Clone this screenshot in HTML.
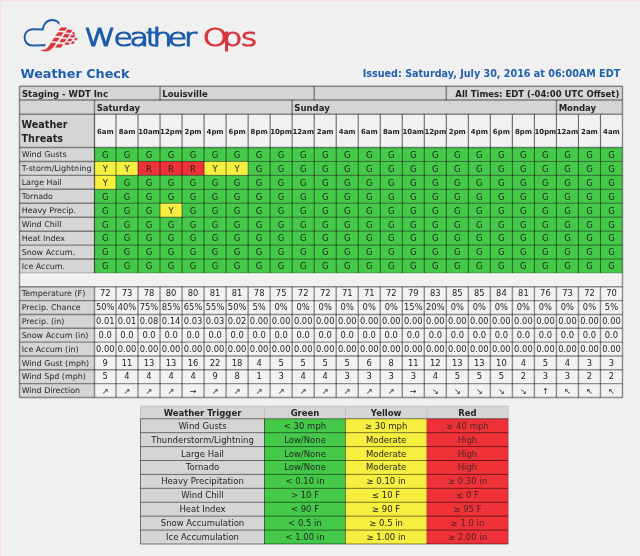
<!DOCTYPE html>
<html lang="en">
<head>
<meta charset="utf-8">
<title>WeatherOps - Weather Check</title>
<style>
html,body{margin:0;padding:0;background:#f0f0f0;}
body{width:640px;height:556px;overflow:hidden;}
svg{display:block;font-family:"DejaVu Sans", "Liberation Sans", sans-serif;fill:#242424;}
svg text{white-space:pre;}
</style>
</head>
<body>
<svg width="640" height="556" viewBox="0 0 640 556">
<defs><filter id="soft" filterUnits="userSpaceOnUse" x="-10" y="-10" width="660" height="576"><feGaussianBlur stdDeviation="0.35"/></filter></defs>
<g filter="url(#soft)">
<rect x="0.00" y="0.00" width="640.00" height="556.00" fill="#f0f0f0"/>
<text x="20.50" y="77.50" font-size="12.8" font-weight="700" fill="#2160ad">Weather Check</text>
<text x="620.20" y="76.90" font-size="9.6" font-weight="700" text-anchor="end" fill="#2160ad">Issued: Saturday, July 30, 2016 at 06:00AM EDT</text>
<rect x="19.50" y="86.25" width="603.00" height="28.05" fill="#d5d5d5"/>
<rect x="19.50" y="114.30" width="75.00" height="158.70" fill="#d5d5d5"/>
<rect x="94.50" y="114.30" width="528.00" height="33.20" fill="#f1f1f1"/>
<rect x="94.50" y="147.50" width="528.00" height="13.94" fill="#45c94a"/>
<rect x="94.50" y="161.44" width="43.52" height="13.94" fill="#f6ef41"/>
<rect x="138.02" y="161.44" width="66.07" height="13.94" fill="#ef3038"/>
<rect x="204.09" y="161.44" width="44.04" height="13.94" fill="#f6ef41"/>
<rect x="248.13" y="161.44" width="374.37" height="13.94" fill="#45c94a"/>
<rect x="94.50" y="175.39" width="21.50" height="13.94" fill="#f6ef41"/>
<rect x="116.00" y="175.39" width="506.50" height="13.94" fill="#45c94a"/>
<rect x="94.50" y="189.33" width="528.00" height="13.94" fill="#45c94a"/>
<rect x="94.50" y="203.28" width="65.54" height="13.94" fill="#45c94a"/>
<rect x="160.04" y="203.28" width="22.02" height="13.94" fill="#f6ef41"/>
<rect x="182.07" y="203.28" width="440.43" height="13.94" fill="#45c94a"/>
<rect x="94.50" y="217.22" width="528.00" height="13.94" fill="#45c94a"/>
<rect x="94.50" y="231.17" width="528.00" height="13.94" fill="#45c94a"/>
<rect x="94.50" y="245.11" width="528.00" height="13.94" fill="#45c94a"/>
<rect x="94.50" y="259.06" width="528.00" height="13.94" fill="#45c94a"/>
<rect x="19.50" y="273.00" width="603.00" height="13.75" fill="#f1f1f1"/>
<line x1="20.20" y1="274.00" x2="621.80" y2="274.00" stroke="#fff" stroke-width="0.8" stroke-opacity="0.9"/>
<line x1="20.60" y1="273.70" x2="20.60" y2="286.05" stroke="#fff" stroke-width="0.8" stroke-opacity="0.9"/>
<rect x="19.50" y="286.75" width="75.00" height="110.75" fill="#d5d5d5"/>
<rect x="94.50" y="286.75" width="528.00" height="110.75" fill="#f2f2f2"/>
<line x1="19.50" y1="86.25" x2="622.50" y2="86.25" stroke="#000" stroke-width="1.42" stroke-opacity="0.42"/>
<line x1="19.50" y1="397.50" x2="622.50" y2="397.50" stroke="#000" stroke-width="1.42" stroke-opacity="0.42"/>
<line x1="19.50" y1="86.25" x2="19.50" y2="397.50" stroke="#000" stroke-width="1.42" stroke-opacity="0.42"/>
<line x1="622.50" y1="86.25" x2="622.50" y2="397.50" stroke="#000" stroke-width="1.42" stroke-opacity="0.42"/>
<line x1="19.50" y1="100.00" x2="622.50" y2="100.00" stroke="#000" stroke-width="1.42" stroke-opacity="0.42"/>
<line x1="19.50" y1="114.30" x2="622.50" y2="114.30" stroke="#000" stroke-width="1.42" stroke-opacity="0.42"/>
<line x1="19.50" y1="147.50" x2="622.50" y2="147.50" stroke="#000" stroke-width="1.42" stroke-opacity="0.42"/>
<line x1="19.50" y1="161.44" x2="94.50" y2="161.44" stroke="#000" stroke-width="1.42" stroke-opacity="0.42"/>
<line x1="94.50" y1="161.44" x2="622.50" y2="161.44" stroke="#000" stroke-width="1.0" stroke-opacity="0.5"/>
<line x1="19.50" y1="175.39" x2="94.50" y2="175.39" stroke="#000" stroke-width="1.42" stroke-opacity="0.42"/>
<line x1="94.50" y1="175.39" x2="622.50" y2="175.39" stroke="#000" stroke-width="1.0" stroke-opacity="0.5"/>
<line x1="19.50" y1="189.33" x2="94.50" y2="189.33" stroke="#000" stroke-width="1.42" stroke-opacity="0.42"/>
<line x1="94.50" y1="189.33" x2="622.50" y2="189.33" stroke="#000" stroke-width="1.0" stroke-opacity="0.5"/>
<line x1="19.50" y1="203.28" x2="94.50" y2="203.28" stroke="#000" stroke-width="1.42" stroke-opacity="0.42"/>
<line x1="94.50" y1="203.28" x2="622.50" y2="203.28" stroke="#000" stroke-width="1.0" stroke-opacity="0.5"/>
<line x1="19.50" y1="217.22" x2="94.50" y2="217.22" stroke="#000" stroke-width="1.42" stroke-opacity="0.42"/>
<line x1="94.50" y1="217.22" x2="622.50" y2="217.22" stroke="#000" stroke-width="1.0" stroke-opacity="0.5"/>
<line x1="19.50" y1="231.17" x2="94.50" y2="231.17" stroke="#000" stroke-width="1.42" stroke-opacity="0.42"/>
<line x1="94.50" y1="231.17" x2="622.50" y2="231.17" stroke="#000" stroke-width="1.0" stroke-opacity="0.5"/>
<line x1="19.50" y1="245.11" x2="94.50" y2="245.11" stroke="#000" stroke-width="1.42" stroke-opacity="0.42"/>
<line x1="94.50" y1="245.11" x2="622.50" y2="245.11" stroke="#000" stroke-width="1.0" stroke-opacity="0.5"/>
<line x1="19.50" y1="259.06" x2="94.50" y2="259.06" stroke="#000" stroke-width="1.42" stroke-opacity="0.42"/>
<line x1="94.50" y1="259.06" x2="622.50" y2="259.06" stroke="#000" stroke-width="1.0" stroke-opacity="0.5"/>
<line x1="19.50" y1="273.00" x2="622.50" y2="273.00" stroke="#000" stroke-width="1.0" stroke-opacity="0.25"/>
<line x1="19.50" y1="286.75" x2="622.50" y2="286.75" stroke="#000" stroke-width="1.42" stroke-opacity="0.42"/>
<line x1="19.50" y1="300.59" x2="622.50" y2="300.59" stroke="#000" stroke-width="1.42" stroke-opacity="0.42"/>
<line x1="19.50" y1="314.44" x2="622.50" y2="314.44" stroke="#000" stroke-width="1.42" stroke-opacity="0.42"/>
<line x1="19.50" y1="328.28" x2="622.50" y2="328.28" stroke="#000" stroke-width="1.42" stroke-opacity="0.42"/>
<line x1="19.50" y1="342.12" x2="622.50" y2="342.12" stroke="#000" stroke-width="1.42" stroke-opacity="0.42"/>
<line x1="19.50" y1="355.97" x2="622.50" y2="355.97" stroke="#000" stroke-width="1.42" stroke-opacity="0.42"/>
<line x1="19.50" y1="369.81" x2="622.50" y2="369.81" stroke="#000" stroke-width="1.42" stroke-opacity="0.42"/>
<line x1="19.50" y1="383.66" x2="622.50" y2="383.66" stroke="#000" stroke-width="1.42" stroke-opacity="0.42"/>
<line x1="160.04" y1="86.25" x2="160.04" y2="100.00" stroke="#000" stroke-width="1.42" stroke-opacity="0.42"/>
<line x1="314.20" y1="86.25" x2="314.20" y2="100.00" stroke="#000" stroke-width="1.42" stroke-opacity="0.42"/>
<line x1="446.33" y1="86.25" x2="446.33" y2="100.00" stroke="#000" stroke-width="1.42" stroke-opacity="0.42"/>
<line x1="94.50" y1="100.00" x2="94.50" y2="114.30" stroke="#000" stroke-width="1.42" stroke-opacity="0.42"/>
<line x1="292.17" y1="100.00" x2="292.17" y2="114.30" stroke="#000" stroke-width="1.42" stroke-opacity="0.42"/>
<line x1="556.43" y1="100.00" x2="556.43" y2="114.30" stroke="#000" stroke-width="1.42" stroke-opacity="0.42"/>
<line x1="94.50" y1="114.30" x2="94.50" y2="273.00" stroke="#000" stroke-width="1.25" stroke-opacity="0.6"/>
<line x1="116.00" y1="114.30" x2="116.00" y2="147.50" stroke="#000" stroke-width="1.15" stroke-opacity="0.55"/>
<line x1="116.00" y1="147.50" x2="116.00" y2="273.00" stroke="#000" stroke-width="1.0" stroke-opacity="0.5"/>
<line x1="138.02" y1="114.30" x2="138.02" y2="147.50" stroke="#000" stroke-width="1.15" stroke-opacity="0.55"/>
<line x1="138.02" y1="147.50" x2="138.02" y2="273.00" stroke="#000" stroke-width="1.0" stroke-opacity="0.5"/>
<line x1="160.04" y1="114.30" x2="160.04" y2="147.50" stroke="#000" stroke-width="1.15" stroke-opacity="0.55"/>
<line x1="160.04" y1="147.50" x2="160.04" y2="273.00" stroke="#000" stroke-width="1.0" stroke-opacity="0.5"/>
<line x1="182.07" y1="114.30" x2="182.07" y2="147.50" stroke="#000" stroke-width="1.15" stroke-opacity="0.55"/>
<line x1="182.07" y1="147.50" x2="182.07" y2="273.00" stroke="#000" stroke-width="1.0" stroke-opacity="0.5"/>
<line x1="204.09" y1="114.30" x2="204.09" y2="147.50" stroke="#000" stroke-width="1.15" stroke-opacity="0.55"/>
<line x1="204.09" y1="147.50" x2="204.09" y2="273.00" stroke="#000" stroke-width="1.0" stroke-opacity="0.5"/>
<line x1="226.11" y1="114.30" x2="226.11" y2="147.50" stroke="#000" stroke-width="1.15" stroke-opacity="0.55"/>
<line x1="226.11" y1="147.50" x2="226.11" y2="273.00" stroke="#000" stroke-width="1.0" stroke-opacity="0.5"/>
<line x1="248.13" y1="114.30" x2="248.13" y2="147.50" stroke="#000" stroke-width="1.15" stroke-opacity="0.55"/>
<line x1="248.13" y1="147.50" x2="248.13" y2="273.00" stroke="#000" stroke-width="1.0" stroke-opacity="0.5"/>
<line x1="270.15" y1="114.30" x2="270.15" y2="147.50" stroke="#000" stroke-width="1.15" stroke-opacity="0.55"/>
<line x1="270.15" y1="147.50" x2="270.15" y2="273.00" stroke="#000" stroke-width="1.0" stroke-opacity="0.5"/>
<line x1="292.17" y1="114.30" x2="292.17" y2="147.50" stroke="#000" stroke-width="1.15" stroke-opacity="0.55"/>
<line x1="292.17" y1="147.50" x2="292.17" y2="273.00" stroke="#000" stroke-width="1.0" stroke-opacity="0.5"/>
<line x1="314.20" y1="114.30" x2="314.20" y2="147.50" stroke="#000" stroke-width="1.15" stroke-opacity="0.55"/>
<line x1="314.20" y1="147.50" x2="314.20" y2="273.00" stroke="#000" stroke-width="1.0" stroke-opacity="0.5"/>
<line x1="336.22" y1="114.30" x2="336.22" y2="147.50" stroke="#000" stroke-width="1.15" stroke-opacity="0.55"/>
<line x1="336.22" y1="147.50" x2="336.22" y2="273.00" stroke="#000" stroke-width="1.0" stroke-opacity="0.5"/>
<line x1="358.24" y1="114.30" x2="358.24" y2="147.50" stroke="#000" stroke-width="1.15" stroke-opacity="0.55"/>
<line x1="358.24" y1="147.50" x2="358.24" y2="273.00" stroke="#000" stroke-width="1.0" stroke-opacity="0.5"/>
<line x1="380.26" y1="114.30" x2="380.26" y2="147.50" stroke="#000" stroke-width="1.15" stroke-opacity="0.55"/>
<line x1="380.26" y1="147.50" x2="380.26" y2="273.00" stroke="#000" stroke-width="1.0" stroke-opacity="0.5"/>
<line x1="402.28" y1="114.30" x2="402.28" y2="147.50" stroke="#000" stroke-width="1.15" stroke-opacity="0.55"/>
<line x1="402.28" y1="147.50" x2="402.28" y2="273.00" stroke="#000" stroke-width="1.0" stroke-opacity="0.5"/>
<line x1="424.30" y1="114.30" x2="424.30" y2="147.50" stroke="#000" stroke-width="1.15" stroke-opacity="0.55"/>
<line x1="424.30" y1="147.50" x2="424.30" y2="273.00" stroke="#000" stroke-width="1.0" stroke-opacity="0.5"/>
<line x1="446.33" y1="114.30" x2="446.33" y2="147.50" stroke="#000" stroke-width="1.15" stroke-opacity="0.55"/>
<line x1="446.33" y1="147.50" x2="446.33" y2="273.00" stroke="#000" stroke-width="1.0" stroke-opacity="0.5"/>
<line x1="468.35" y1="114.30" x2="468.35" y2="147.50" stroke="#000" stroke-width="1.15" stroke-opacity="0.55"/>
<line x1="468.35" y1="147.50" x2="468.35" y2="273.00" stroke="#000" stroke-width="1.0" stroke-opacity="0.5"/>
<line x1="490.37" y1="114.30" x2="490.37" y2="147.50" stroke="#000" stroke-width="1.15" stroke-opacity="0.55"/>
<line x1="490.37" y1="147.50" x2="490.37" y2="273.00" stroke="#000" stroke-width="1.0" stroke-opacity="0.5"/>
<line x1="512.39" y1="114.30" x2="512.39" y2="147.50" stroke="#000" stroke-width="1.15" stroke-opacity="0.55"/>
<line x1="512.39" y1="147.50" x2="512.39" y2="273.00" stroke="#000" stroke-width="1.0" stroke-opacity="0.5"/>
<line x1="534.41" y1="114.30" x2="534.41" y2="147.50" stroke="#000" stroke-width="1.15" stroke-opacity="0.55"/>
<line x1="534.41" y1="147.50" x2="534.41" y2="273.00" stroke="#000" stroke-width="1.0" stroke-opacity="0.5"/>
<line x1="556.43" y1="114.30" x2="556.43" y2="147.50" stroke="#000" stroke-width="1.15" stroke-opacity="0.55"/>
<line x1="556.43" y1="147.50" x2="556.43" y2="273.00" stroke="#000" stroke-width="1.0" stroke-opacity="0.5"/>
<line x1="578.46" y1="114.30" x2="578.46" y2="147.50" stroke="#000" stroke-width="1.15" stroke-opacity="0.55"/>
<line x1="578.46" y1="147.50" x2="578.46" y2="273.00" stroke="#000" stroke-width="1.0" stroke-opacity="0.5"/>
<line x1="600.48" y1="114.30" x2="600.48" y2="147.50" stroke="#000" stroke-width="1.15" stroke-opacity="0.55"/>
<line x1="600.48" y1="147.50" x2="600.48" y2="273.00" stroke="#000" stroke-width="1.0" stroke-opacity="0.5"/>
<line x1="94.50" y1="286.75" x2="94.50" y2="397.50" stroke="#000" stroke-width="1.42" stroke-opacity="0.42"/>
<line x1="116.00" y1="286.75" x2="116.00" y2="397.50" stroke="#000" stroke-width="1.42" stroke-opacity="0.42"/>
<line x1="138.02" y1="286.75" x2="138.02" y2="397.50" stroke="#000" stroke-width="1.42" stroke-opacity="0.42"/>
<line x1="160.04" y1="286.75" x2="160.04" y2="397.50" stroke="#000" stroke-width="1.42" stroke-opacity="0.42"/>
<line x1="182.07" y1="286.75" x2="182.07" y2="397.50" stroke="#000" stroke-width="1.42" stroke-opacity="0.42"/>
<line x1="204.09" y1="286.75" x2="204.09" y2="397.50" stroke="#000" stroke-width="1.42" stroke-opacity="0.42"/>
<line x1="226.11" y1="286.75" x2="226.11" y2="397.50" stroke="#000" stroke-width="1.42" stroke-opacity="0.42"/>
<line x1="248.13" y1="286.75" x2="248.13" y2="397.50" stroke="#000" stroke-width="1.42" stroke-opacity="0.42"/>
<line x1="270.15" y1="286.75" x2="270.15" y2="397.50" stroke="#000" stroke-width="1.42" stroke-opacity="0.42"/>
<line x1="292.17" y1="286.75" x2="292.17" y2="397.50" stroke="#000" stroke-width="1.42" stroke-opacity="0.42"/>
<line x1="314.20" y1="286.75" x2="314.20" y2="397.50" stroke="#000" stroke-width="1.42" stroke-opacity="0.42"/>
<line x1="336.22" y1="286.75" x2="336.22" y2="397.50" stroke="#000" stroke-width="1.42" stroke-opacity="0.42"/>
<line x1="358.24" y1="286.75" x2="358.24" y2="397.50" stroke="#000" stroke-width="1.42" stroke-opacity="0.42"/>
<line x1="380.26" y1="286.75" x2="380.26" y2="397.50" stroke="#000" stroke-width="1.42" stroke-opacity="0.42"/>
<line x1="402.28" y1="286.75" x2="402.28" y2="397.50" stroke="#000" stroke-width="1.42" stroke-opacity="0.42"/>
<line x1="424.30" y1="286.75" x2="424.30" y2="397.50" stroke="#000" stroke-width="1.42" stroke-opacity="0.42"/>
<line x1="446.33" y1="286.75" x2="446.33" y2="397.50" stroke="#000" stroke-width="1.42" stroke-opacity="0.42"/>
<line x1="468.35" y1="286.75" x2="468.35" y2="397.50" stroke="#000" stroke-width="1.42" stroke-opacity="0.42"/>
<line x1="490.37" y1="286.75" x2="490.37" y2="397.50" stroke="#000" stroke-width="1.42" stroke-opacity="0.42"/>
<line x1="512.39" y1="286.75" x2="512.39" y2="397.50" stroke="#000" stroke-width="1.42" stroke-opacity="0.42"/>
<line x1="534.41" y1="286.75" x2="534.41" y2="397.50" stroke="#000" stroke-width="1.42" stroke-opacity="0.42"/>
<line x1="556.43" y1="286.75" x2="556.43" y2="397.50" stroke="#000" stroke-width="1.42" stroke-opacity="0.42"/>
<line x1="578.46" y1="286.75" x2="578.46" y2="397.50" stroke="#000" stroke-width="1.42" stroke-opacity="0.42"/>
<line x1="600.48" y1="286.75" x2="600.48" y2="397.50" stroke="#000" stroke-width="1.42" stroke-opacity="0.42"/>
<text x="22.00" y="96.80" font-size="8.5" font-weight="700">Staging - WDT Inc</text>
<text x="162.34" y="96.80" font-size="8.5" font-weight="700">Louisville</text>
<text x="619.30" y="96.80" font-size="8.5" font-weight="700" text-anchor="end">All Times: EDT (-04:00 UTC Offset)</text>
<text x="96.70" y="110.70" font-size="8.5" font-weight="700">Saturday</text>
<text x="294.37" y="110.70" font-size="8.5" font-weight="700">Sunday</text>
<text x="558.63" y="110.70" font-size="8.5" font-weight="700">Monday</text>
<text x="21.50" y="128.00" font-size="9.65" font-weight="700">Weather</text>
<text x="21.50" y="141.80" font-size="9.65" font-weight="700">Threats</text>
<text x="105.25" y="133.80" font-size="6.95" font-weight="700" text-anchor="middle">6am</text>
<text x="127.01" y="133.80" font-size="6.95" font-weight="700" text-anchor="middle">8am</text>
<text x="149.03" y="133.80" font-size="6.95" font-weight="700" text-anchor="middle">10am</text>
<text x="171.05" y="133.80" font-size="6.95" font-weight="700" text-anchor="middle">12pm</text>
<text x="193.08" y="133.80" font-size="6.95" font-weight="700" text-anchor="middle">2pm</text>
<text x="215.10" y="133.80" font-size="6.95" font-weight="700" text-anchor="middle">4pm</text>
<text x="237.12" y="133.80" font-size="6.95" font-weight="700" text-anchor="middle">6pm</text>
<text x="259.14" y="133.80" font-size="6.95" font-weight="700" text-anchor="middle">8pm</text>
<text x="281.16" y="133.80" font-size="6.95" font-weight="700" text-anchor="middle">10pm</text>
<text x="303.18" y="133.80" font-size="6.95" font-weight="700" text-anchor="middle">12am</text>
<text x="325.21" y="133.80" font-size="6.95" font-weight="700" text-anchor="middle">2am</text>
<text x="347.23" y="133.80" font-size="6.95" font-weight="700" text-anchor="middle">4am</text>
<text x="369.25" y="133.80" font-size="6.95" font-weight="700" text-anchor="middle">6am</text>
<text x="391.27" y="133.80" font-size="6.95" font-weight="700" text-anchor="middle">8am</text>
<text x="413.29" y="133.80" font-size="6.95" font-weight="700" text-anchor="middle">10am</text>
<text x="435.32" y="133.80" font-size="6.95" font-weight="700" text-anchor="middle">12pm</text>
<text x="457.34" y="133.80" font-size="6.95" font-weight="700" text-anchor="middle">2pm</text>
<text x="479.36" y="133.80" font-size="6.95" font-weight="700" text-anchor="middle">4pm</text>
<text x="501.38" y="133.80" font-size="6.95" font-weight="700" text-anchor="middle">6pm</text>
<text x="523.40" y="133.80" font-size="6.95" font-weight="700" text-anchor="middle">8pm</text>
<text x="545.42" y="133.80" font-size="6.95" font-weight="700" text-anchor="middle">10pm</text>
<text x="567.45" y="133.80" font-size="6.95" font-weight="700" text-anchor="middle">12am</text>
<text x="589.47" y="133.80" font-size="6.95" font-weight="700" text-anchor="middle">2am</text>
<text x="611.49" y="133.80" font-size="6.95" font-weight="700" text-anchor="middle">4am</text>
<text x="21.70" y="157.30" font-size="7.95">Wind Gusts</text>
<text x="21.70" y="171.24" font-size="7.95">T-storm/Lightning</text>
<text x="21.70" y="185.19" font-size="7.95">Large Hail</text>
<text x="21.70" y="199.13" font-size="7.95">Tornado</text>
<text x="21.70" y="213.08" font-size="7.95">Heavy Precip.</text>
<text x="21.70" y="227.02" font-size="7.95">Wind Chill</text>
<text x="21.70" y="240.97" font-size="7.95">Heat Index</text>
<text x="21.70" y="254.91" font-size="7.95">Snow Accum.</text>
<text x="21.70" y="268.86" font-size="7.95">Ice Accum.</text>
<text x="21.70" y="296.35" font-size="7.95">Temperature (F)</text>
<text x="21.70" y="310.19" font-size="7.95">Precip. Chance</text>
<text x="21.70" y="324.04" font-size="7.95">Precip. (in)</text>
<text x="21.70" y="337.88" font-size="7.95">Snow Accum (in)</text>
<text x="21.70" y="351.73" font-size="7.95">Ice Accum (in)</text>
<text x="21.70" y="365.57" font-size="7.95">Wind Gust (mph)</text>
<text x="21.70" y="379.41" font-size="7.95">Wind Spd (mph)</text>
<text x="21.70" y="393.26" font-size="7.95">Wind Direction</text>
<text x="105.25" y="393.66" font-size="8.2" text-anchor="middle">↗</text>
<text x="127.01" y="393.66" font-size="8.2" text-anchor="middle">↗</text>
<text x="149.03" y="393.66" font-size="8.2" text-anchor="middle">↗</text>
<text x="171.05" y="393.66" font-size="8.2" text-anchor="middle">↗</text>
<text x="193.08" y="393.66" font-size="8.2" text-anchor="middle">→</text>
<text x="215.10" y="393.66" font-size="8.2" text-anchor="middle">↗</text>
<text x="237.12" y="393.66" font-size="8.2" text-anchor="middle">↗</text>
<text x="259.14" y="393.66" font-size="8.2" text-anchor="middle">↗</text>
<text x="281.16" y="393.66" font-size="8.2" text-anchor="middle">↗</text>
<text x="303.18" y="393.66" font-size="8.2" text-anchor="middle">↗</text>
<text x="325.21" y="393.66" font-size="8.2" text-anchor="middle">↗</text>
<text x="347.23" y="393.66" font-size="8.2" text-anchor="middle">↗</text>
<text x="369.25" y="393.66" font-size="8.2" text-anchor="middle">↗</text>
<text x="391.27" y="393.66" font-size="8.2" text-anchor="middle">↗</text>
<text x="413.29" y="393.66" font-size="8.2" text-anchor="middle">→</text>
<text x="435.32" y="393.66" font-size="8.2" text-anchor="middle">↘</text>
<text x="457.34" y="393.66" font-size="8.2" text-anchor="middle">↘</text>
<text x="479.36" y="393.66" font-size="8.2" text-anchor="middle">↘</text>
<text x="501.38" y="393.66" font-size="8.2" text-anchor="middle">↘</text>
<text x="523.40" y="393.66" font-size="8.2" text-anchor="middle">↘</text>
<text x="545.42" y="393.66" font-size="8.2" text-anchor="middle">↑</text>
<text x="567.45" y="393.66" font-size="8.2" text-anchor="middle">↖</text>
<text x="589.47" y="393.66" font-size="8.2" text-anchor="middle">↖</text>
<text x="611.49" y="393.66" font-size="8.2" text-anchor="middle">↖</text>
<rect x="140.50" y="406.25" width="367.75" height="12.50" fill="#d5d5d5"/>
<rect x="140.50" y="418.75" width="124.00" height="125.25" fill="#d5d5d5"/>
<rect x="264.50" y="418.75" width="81.00" height="125.25" fill="#45c94a"/>
<rect x="345.50" y="418.75" width="81.25" height="125.25" fill="#f6ef41"/>
<rect x="426.75" y="418.75" width="81.50" height="125.25" fill="#ef3038"/>
<line x1="140.50" y1="406.25" x2="508.25" y2="406.25" stroke="#bdbdbd" stroke-width="0.8"/>
<line x1="140.50" y1="406.25" x2="140.50" y2="418.75" stroke="#bdbdbd" stroke-width="0.8"/>
<line x1="264.50" y1="406.25" x2="264.50" y2="418.75" stroke="#bdbdbd" stroke-width="0.8"/>
<line x1="345.50" y1="406.25" x2="345.50" y2="418.75" stroke="#bdbdbd" stroke-width="0.8"/>
<line x1="426.75" y1="406.25" x2="426.75" y2="418.75" stroke="#bdbdbd" stroke-width="0.8"/>
<line x1="508.25" y1="406.25" x2="508.25" y2="418.75" stroke="#bdbdbd" stroke-width="0.8"/>
<line x1="140.50" y1="418.75" x2="508.25" y2="418.75" stroke="#000" stroke-width="0.85" stroke-opacity="0.6"/>
<line x1="140.50" y1="432.67" x2="508.25" y2="432.67" stroke="#000" stroke-width="0.85" stroke-opacity="0.6"/>
<line x1="140.50" y1="446.58" x2="508.25" y2="446.58" stroke="#000" stroke-width="0.85" stroke-opacity="0.6"/>
<line x1="140.50" y1="460.50" x2="508.25" y2="460.50" stroke="#000" stroke-width="0.85" stroke-opacity="0.6"/>
<line x1="140.50" y1="474.42" x2="508.25" y2="474.42" stroke="#000" stroke-width="0.85" stroke-opacity="0.6"/>
<line x1="140.50" y1="488.33" x2="508.25" y2="488.33" stroke="#000" stroke-width="0.85" stroke-opacity="0.6"/>
<line x1="140.50" y1="502.25" x2="508.25" y2="502.25" stroke="#000" stroke-width="0.85" stroke-opacity="0.6"/>
<line x1="140.50" y1="516.17" x2="508.25" y2="516.17" stroke="#000" stroke-width="0.85" stroke-opacity="0.6"/>
<line x1="140.50" y1="530.08" x2="508.25" y2="530.08" stroke="#000" stroke-width="0.85" stroke-opacity="0.6"/>
<line x1="140.50" y1="544.00" x2="508.25" y2="544.00" stroke="#000" stroke-width="0.85" stroke-opacity="0.6"/>
<line x1="140.50" y1="418.75" x2="140.50" y2="544.00" stroke="#000" stroke-width="0.85" stroke-opacity="0.6"/>
<line x1="264.50" y1="418.75" x2="264.50" y2="544.00" stroke="#000" stroke-width="0.85" stroke-opacity="0.65"/>
<line x1="345.50" y1="418.75" x2="345.50" y2="544.00" stroke="#000" stroke-width="0.85" stroke-opacity="0.55"/>
<line x1="426.75" y1="418.75" x2="426.75" y2="544.00" stroke="#000" stroke-width="0.85" stroke-opacity="0.25"/>
<line x1="508.25" y1="418.75" x2="508.25" y2="544.00" stroke="#000" stroke-width="0.85" stroke-opacity="0.25"/>
<text x="202.50" y="415.60" font-size="8.5" font-weight="700" text-anchor="middle">Weather Trigger</text>
<text x="305.00" y="415.60" font-size="8.5" font-weight="700" text-anchor="middle">Green</text>
<text x="386.12" y="415.60" font-size="8.5" font-weight="700" text-anchor="middle">Yellow</text>
<text x="467.50" y="415.60" font-size="8.5" font-weight="700" text-anchor="middle">Red</text>
<g transform="scale(1.04,1)">
<text x="101.20" y="157.80" font-size="8.17" text-anchor="middle">G</text>
<text x="122.13" y="157.80" font-size="8.17" text-anchor="middle">G</text>
<text x="143.30" y="157.80" font-size="8.17" text-anchor="middle">G</text>
<text x="164.48" y="157.80" font-size="8.17" text-anchor="middle">G</text>
<text x="185.65" y="157.80" font-size="8.17" text-anchor="middle">G</text>
<text x="206.82" y="157.80" font-size="8.17" text-anchor="middle">G</text>
<text x="228.00" y="157.80" font-size="8.17" text-anchor="middle">G</text>
<text x="249.17" y="157.80" font-size="8.17" text-anchor="middle">G</text>
<text x="270.35" y="157.80" font-size="8.17" text-anchor="middle">G</text>
<text x="291.52" y="157.80" font-size="8.17" text-anchor="middle">G</text>
<text x="312.70" y="157.80" font-size="8.17" text-anchor="middle">G</text>
<text x="333.87" y="157.80" font-size="8.17" text-anchor="middle">G</text>
<text x="355.05" y="157.80" font-size="8.17" text-anchor="middle">G</text>
<text x="376.22" y="157.80" font-size="8.17" text-anchor="middle">G</text>
<text x="397.40" y="157.80" font-size="8.17" text-anchor="middle">G</text>
<text x="418.57" y="157.80" font-size="8.17" text-anchor="middle">G</text>
<text x="439.75" y="157.80" font-size="8.17" text-anchor="middle">G</text>
<text x="460.92" y="157.80" font-size="8.17" text-anchor="middle">G</text>
<text x="482.10" y="157.80" font-size="8.17" text-anchor="middle">G</text>
<text x="503.27" y="157.80" font-size="8.17" text-anchor="middle">G</text>
<text x="524.45" y="157.80" font-size="8.17" text-anchor="middle">G</text>
<text x="545.62" y="157.80" font-size="8.17" text-anchor="middle">G</text>
<text x="566.80" y="157.80" font-size="8.17" text-anchor="middle">G</text>
<text x="587.97" y="157.80" font-size="8.17" text-anchor="middle">G</text>
<text x="101.20" y="171.74" font-size="8.17" text-anchor="middle">Y</text>
<text x="122.13" y="171.74" font-size="8.17" text-anchor="middle">Y</text>
<text x="143.30" y="171.74" font-size="8.17" text-anchor="middle">R</text>
<text x="164.48" y="171.74" font-size="8.17" text-anchor="middle">R</text>
<text x="185.65" y="171.74" font-size="8.17" text-anchor="middle">R</text>
<text x="206.82" y="171.74" font-size="8.17" text-anchor="middle">Y</text>
<text x="228.00" y="171.74" font-size="8.17" text-anchor="middle">Y</text>
<text x="249.17" y="171.74" font-size="8.17" text-anchor="middle">G</text>
<text x="270.35" y="171.74" font-size="8.17" text-anchor="middle">G</text>
<text x="291.52" y="171.74" font-size="8.17" text-anchor="middle">G</text>
<text x="312.70" y="171.74" font-size="8.17" text-anchor="middle">G</text>
<text x="333.87" y="171.74" font-size="8.17" text-anchor="middle">G</text>
<text x="355.05" y="171.74" font-size="8.17" text-anchor="middle">G</text>
<text x="376.22" y="171.74" font-size="8.17" text-anchor="middle">G</text>
<text x="397.40" y="171.74" font-size="8.17" text-anchor="middle">G</text>
<text x="418.57" y="171.74" font-size="8.17" text-anchor="middle">G</text>
<text x="439.75" y="171.74" font-size="8.17" text-anchor="middle">G</text>
<text x="460.92" y="171.74" font-size="8.17" text-anchor="middle">G</text>
<text x="482.10" y="171.74" font-size="8.17" text-anchor="middle">G</text>
<text x="503.27" y="171.74" font-size="8.17" text-anchor="middle">G</text>
<text x="524.45" y="171.74" font-size="8.17" text-anchor="middle">G</text>
<text x="545.62" y="171.74" font-size="8.17" text-anchor="middle">G</text>
<text x="566.80" y="171.74" font-size="8.17" text-anchor="middle">G</text>
<text x="587.97" y="171.74" font-size="8.17" text-anchor="middle">G</text>
<text x="101.20" y="185.69" font-size="8.17" text-anchor="middle">Y</text>
<text x="122.13" y="185.69" font-size="8.17" text-anchor="middle">G</text>
<text x="143.30" y="185.69" font-size="8.17" text-anchor="middle">G</text>
<text x="164.48" y="185.69" font-size="8.17" text-anchor="middle">G</text>
<text x="185.65" y="185.69" font-size="8.17" text-anchor="middle">G</text>
<text x="206.82" y="185.69" font-size="8.17" text-anchor="middle">G</text>
<text x="228.00" y="185.69" font-size="8.17" text-anchor="middle">G</text>
<text x="249.17" y="185.69" font-size="8.17" text-anchor="middle">G</text>
<text x="270.35" y="185.69" font-size="8.17" text-anchor="middle">G</text>
<text x="291.52" y="185.69" font-size="8.17" text-anchor="middle">G</text>
<text x="312.70" y="185.69" font-size="8.17" text-anchor="middle">G</text>
<text x="333.87" y="185.69" font-size="8.17" text-anchor="middle">G</text>
<text x="355.05" y="185.69" font-size="8.17" text-anchor="middle">G</text>
<text x="376.22" y="185.69" font-size="8.17" text-anchor="middle">G</text>
<text x="397.40" y="185.69" font-size="8.17" text-anchor="middle">G</text>
<text x="418.57" y="185.69" font-size="8.17" text-anchor="middle">G</text>
<text x="439.75" y="185.69" font-size="8.17" text-anchor="middle">G</text>
<text x="460.92" y="185.69" font-size="8.17" text-anchor="middle">G</text>
<text x="482.10" y="185.69" font-size="8.17" text-anchor="middle">G</text>
<text x="503.27" y="185.69" font-size="8.17" text-anchor="middle">G</text>
<text x="524.45" y="185.69" font-size="8.17" text-anchor="middle">G</text>
<text x="545.62" y="185.69" font-size="8.17" text-anchor="middle">G</text>
<text x="566.80" y="185.69" font-size="8.17" text-anchor="middle">G</text>
<text x="587.97" y="185.69" font-size="8.17" text-anchor="middle">G</text>
<text x="101.20" y="199.63" font-size="8.17" text-anchor="middle">G</text>
<text x="122.13" y="199.63" font-size="8.17" text-anchor="middle">G</text>
<text x="143.30" y="199.63" font-size="8.17" text-anchor="middle">G</text>
<text x="164.48" y="199.63" font-size="8.17" text-anchor="middle">G</text>
<text x="185.65" y="199.63" font-size="8.17" text-anchor="middle">G</text>
<text x="206.82" y="199.63" font-size="8.17" text-anchor="middle">G</text>
<text x="228.00" y="199.63" font-size="8.17" text-anchor="middle">G</text>
<text x="249.17" y="199.63" font-size="8.17" text-anchor="middle">G</text>
<text x="270.35" y="199.63" font-size="8.17" text-anchor="middle">G</text>
<text x="291.52" y="199.63" font-size="8.17" text-anchor="middle">G</text>
<text x="312.70" y="199.63" font-size="8.17" text-anchor="middle">G</text>
<text x="333.87" y="199.63" font-size="8.17" text-anchor="middle">G</text>
<text x="355.05" y="199.63" font-size="8.17" text-anchor="middle">G</text>
<text x="376.22" y="199.63" font-size="8.17" text-anchor="middle">G</text>
<text x="397.40" y="199.63" font-size="8.17" text-anchor="middle">G</text>
<text x="418.57" y="199.63" font-size="8.17" text-anchor="middle">G</text>
<text x="439.75" y="199.63" font-size="8.17" text-anchor="middle">G</text>
<text x="460.92" y="199.63" font-size="8.17" text-anchor="middle">G</text>
<text x="482.10" y="199.63" font-size="8.17" text-anchor="middle">G</text>
<text x="503.27" y="199.63" font-size="8.17" text-anchor="middle">G</text>
<text x="524.45" y="199.63" font-size="8.17" text-anchor="middle">G</text>
<text x="545.62" y="199.63" font-size="8.17" text-anchor="middle">G</text>
<text x="566.80" y="199.63" font-size="8.17" text-anchor="middle">G</text>
<text x="587.97" y="199.63" font-size="8.17" text-anchor="middle">G</text>
<text x="101.20" y="213.58" font-size="8.17" text-anchor="middle">G</text>
<text x="122.13" y="213.58" font-size="8.17" text-anchor="middle">G</text>
<text x="143.30" y="213.58" font-size="8.17" text-anchor="middle">G</text>
<text x="164.48" y="213.58" font-size="8.17" text-anchor="middle">Y</text>
<text x="185.65" y="213.58" font-size="8.17" text-anchor="middle">G</text>
<text x="206.82" y="213.58" font-size="8.17" text-anchor="middle">G</text>
<text x="228.00" y="213.58" font-size="8.17" text-anchor="middle">G</text>
<text x="249.17" y="213.58" font-size="8.17" text-anchor="middle">G</text>
<text x="270.35" y="213.58" font-size="8.17" text-anchor="middle">G</text>
<text x="291.52" y="213.58" font-size="8.17" text-anchor="middle">G</text>
<text x="312.70" y="213.58" font-size="8.17" text-anchor="middle">G</text>
<text x="333.87" y="213.58" font-size="8.17" text-anchor="middle">G</text>
<text x="355.05" y="213.58" font-size="8.17" text-anchor="middle">G</text>
<text x="376.22" y="213.58" font-size="8.17" text-anchor="middle">G</text>
<text x="397.40" y="213.58" font-size="8.17" text-anchor="middle">G</text>
<text x="418.57" y="213.58" font-size="8.17" text-anchor="middle">G</text>
<text x="439.75" y="213.58" font-size="8.17" text-anchor="middle">G</text>
<text x="460.92" y="213.58" font-size="8.17" text-anchor="middle">G</text>
<text x="482.10" y="213.58" font-size="8.17" text-anchor="middle">G</text>
<text x="503.27" y="213.58" font-size="8.17" text-anchor="middle">G</text>
<text x="524.45" y="213.58" font-size="8.17" text-anchor="middle">G</text>
<text x="545.62" y="213.58" font-size="8.17" text-anchor="middle">G</text>
<text x="566.80" y="213.58" font-size="8.17" text-anchor="middle">G</text>
<text x="587.97" y="213.58" font-size="8.17" text-anchor="middle">G</text>
<text x="101.20" y="227.52" font-size="8.17" text-anchor="middle">G</text>
<text x="122.13" y="227.52" font-size="8.17" text-anchor="middle">G</text>
<text x="143.30" y="227.52" font-size="8.17" text-anchor="middle">G</text>
<text x="164.48" y="227.52" font-size="8.17" text-anchor="middle">G</text>
<text x="185.65" y="227.52" font-size="8.17" text-anchor="middle">G</text>
<text x="206.82" y="227.52" font-size="8.17" text-anchor="middle">G</text>
<text x="228.00" y="227.52" font-size="8.17" text-anchor="middle">G</text>
<text x="249.17" y="227.52" font-size="8.17" text-anchor="middle">G</text>
<text x="270.35" y="227.52" font-size="8.17" text-anchor="middle">G</text>
<text x="291.52" y="227.52" font-size="8.17" text-anchor="middle">G</text>
<text x="312.70" y="227.52" font-size="8.17" text-anchor="middle">G</text>
<text x="333.87" y="227.52" font-size="8.17" text-anchor="middle">G</text>
<text x="355.05" y="227.52" font-size="8.17" text-anchor="middle">G</text>
<text x="376.22" y="227.52" font-size="8.17" text-anchor="middle">G</text>
<text x="397.40" y="227.52" font-size="8.17" text-anchor="middle">G</text>
<text x="418.57" y="227.52" font-size="8.17" text-anchor="middle">G</text>
<text x="439.75" y="227.52" font-size="8.17" text-anchor="middle">G</text>
<text x="460.92" y="227.52" font-size="8.17" text-anchor="middle">G</text>
<text x="482.10" y="227.52" font-size="8.17" text-anchor="middle">G</text>
<text x="503.27" y="227.52" font-size="8.17" text-anchor="middle">G</text>
<text x="524.45" y="227.52" font-size="8.17" text-anchor="middle">G</text>
<text x="545.62" y="227.52" font-size="8.17" text-anchor="middle">G</text>
<text x="566.80" y="227.52" font-size="8.17" text-anchor="middle">G</text>
<text x="587.97" y="227.52" font-size="8.17" text-anchor="middle">G</text>
<text x="101.20" y="241.47" font-size="8.17" text-anchor="middle">G</text>
<text x="122.13" y="241.47" font-size="8.17" text-anchor="middle">G</text>
<text x="143.30" y="241.47" font-size="8.17" text-anchor="middle">G</text>
<text x="164.48" y="241.47" font-size="8.17" text-anchor="middle">G</text>
<text x="185.65" y="241.47" font-size="8.17" text-anchor="middle">G</text>
<text x="206.82" y="241.47" font-size="8.17" text-anchor="middle">G</text>
<text x="228.00" y="241.47" font-size="8.17" text-anchor="middle">G</text>
<text x="249.17" y="241.47" font-size="8.17" text-anchor="middle">G</text>
<text x="270.35" y="241.47" font-size="8.17" text-anchor="middle">G</text>
<text x="291.52" y="241.47" font-size="8.17" text-anchor="middle">G</text>
<text x="312.70" y="241.47" font-size="8.17" text-anchor="middle">G</text>
<text x="333.87" y="241.47" font-size="8.17" text-anchor="middle">G</text>
<text x="355.05" y="241.47" font-size="8.17" text-anchor="middle">G</text>
<text x="376.22" y="241.47" font-size="8.17" text-anchor="middle">G</text>
<text x="397.40" y="241.47" font-size="8.17" text-anchor="middle">G</text>
<text x="418.57" y="241.47" font-size="8.17" text-anchor="middle">G</text>
<text x="439.75" y="241.47" font-size="8.17" text-anchor="middle">G</text>
<text x="460.92" y="241.47" font-size="8.17" text-anchor="middle">G</text>
<text x="482.10" y="241.47" font-size="8.17" text-anchor="middle">G</text>
<text x="503.27" y="241.47" font-size="8.17" text-anchor="middle">G</text>
<text x="524.45" y="241.47" font-size="8.17" text-anchor="middle">G</text>
<text x="545.62" y="241.47" font-size="8.17" text-anchor="middle">G</text>
<text x="566.80" y="241.47" font-size="8.17" text-anchor="middle">G</text>
<text x="587.97" y="241.47" font-size="8.17" text-anchor="middle">G</text>
<text x="101.20" y="255.41" font-size="8.17" text-anchor="middle">G</text>
<text x="122.13" y="255.41" font-size="8.17" text-anchor="middle">G</text>
<text x="143.30" y="255.41" font-size="8.17" text-anchor="middle">G</text>
<text x="164.48" y="255.41" font-size="8.17" text-anchor="middle">G</text>
<text x="185.65" y="255.41" font-size="8.17" text-anchor="middle">G</text>
<text x="206.82" y="255.41" font-size="8.17" text-anchor="middle">G</text>
<text x="228.00" y="255.41" font-size="8.17" text-anchor="middle">G</text>
<text x="249.17" y="255.41" font-size="8.17" text-anchor="middle">G</text>
<text x="270.35" y="255.41" font-size="8.17" text-anchor="middle">G</text>
<text x="291.52" y="255.41" font-size="8.17" text-anchor="middle">G</text>
<text x="312.70" y="255.41" font-size="8.17" text-anchor="middle">G</text>
<text x="333.87" y="255.41" font-size="8.17" text-anchor="middle">G</text>
<text x="355.05" y="255.41" font-size="8.17" text-anchor="middle">G</text>
<text x="376.22" y="255.41" font-size="8.17" text-anchor="middle">G</text>
<text x="397.40" y="255.41" font-size="8.17" text-anchor="middle">G</text>
<text x="418.57" y="255.41" font-size="8.17" text-anchor="middle">G</text>
<text x="439.75" y="255.41" font-size="8.17" text-anchor="middle">G</text>
<text x="460.92" y="255.41" font-size="8.17" text-anchor="middle">G</text>
<text x="482.10" y="255.41" font-size="8.17" text-anchor="middle">G</text>
<text x="503.27" y="255.41" font-size="8.17" text-anchor="middle">G</text>
<text x="524.45" y="255.41" font-size="8.17" text-anchor="middle">G</text>
<text x="545.62" y="255.41" font-size="8.17" text-anchor="middle">G</text>
<text x="566.80" y="255.41" font-size="8.17" text-anchor="middle">G</text>
<text x="587.97" y="255.41" font-size="8.17" text-anchor="middle">G</text>
<text x="101.20" y="269.36" font-size="8.17" text-anchor="middle">G</text>
<text x="122.13" y="269.36" font-size="8.17" text-anchor="middle">G</text>
<text x="143.30" y="269.36" font-size="8.17" text-anchor="middle">G</text>
<text x="164.48" y="269.36" font-size="8.17" text-anchor="middle">G</text>
<text x="185.65" y="269.36" font-size="8.17" text-anchor="middle">G</text>
<text x="206.82" y="269.36" font-size="8.17" text-anchor="middle">G</text>
<text x="228.00" y="269.36" font-size="8.17" text-anchor="middle">G</text>
<text x="249.17" y="269.36" font-size="8.17" text-anchor="middle">G</text>
<text x="270.35" y="269.36" font-size="8.17" text-anchor="middle">G</text>
<text x="291.52" y="269.36" font-size="8.17" text-anchor="middle">G</text>
<text x="312.70" y="269.36" font-size="8.17" text-anchor="middle">G</text>
<text x="333.87" y="269.36" font-size="8.17" text-anchor="middle">G</text>
<text x="355.05" y="269.36" font-size="8.17" text-anchor="middle">G</text>
<text x="376.22" y="269.36" font-size="8.17" text-anchor="middle">G</text>
<text x="397.40" y="269.36" font-size="8.17" text-anchor="middle">G</text>
<text x="418.57" y="269.36" font-size="8.17" text-anchor="middle">G</text>
<text x="439.75" y="269.36" font-size="8.17" text-anchor="middle">G</text>
<text x="460.92" y="269.36" font-size="8.17" text-anchor="middle">G</text>
<text x="482.10" y="269.36" font-size="8.17" text-anchor="middle">G</text>
<text x="503.27" y="269.36" font-size="8.17" text-anchor="middle">G</text>
<text x="524.45" y="269.36" font-size="8.17" text-anchor="middle">G</text>
<text x="545.62" y="269.36" font-size="8.17" text-anchor="middle">G</text>
<text x="566.80" y="269.36" font-size="8.17" text-anchor="middle">G</text>
<text x="587.97" y="269.36" font-size="8.17" text-anchor="middle">G</text>
<text x="101.20" y="296.35" font-size="8.03" text-anchor="middle">72</text>
<text x="122.13" y="296.35" font-size="8.03" text-anchor="middle">73</text>
<text x="143.30" y="296.35" font-size="8.03" text-anchor="middle">78</text>
<text x="164.48" y="296.35" font-size="8.03" text-anchor="middle">80</text>
<text x="185.65" y="296.35" font-size="8.03" text-anchor="middle">80</text>
<text x="206.82" y="296.35" font-size="8.03" text-anchor="middle">81</text>
<text x="228.00" y="296.35" font-size="8.03" text-anchor="middle">81</text>
<text x="249.17" y="296.35" font-size="8.03" text-anchor="middle">78</text>
<text x="270.35" y="296.35" font-size="8.03" text-anchor="middle">75</text>
<text x="291.52" y="296.35" font-size="8.03" text-anchor="middle">72</text>
<text x="312.70" y="296.35" font-size="8.03" text-anchor="middle">72</text>
<text x="333.87" y="296.35" font-size="8.03" text-anchor="middle">71</text>
<text x="355.05" y="296.35" font-size="8.03" text-anchor="middle">71</text>
<text x="376.22" y="296.35" font-size="8.03" text-anchor="middle">72</text>
<text x="397.40" y="296.35" font-size="8.03" text-anchor="middle">79</text>
<text x="418.57" y="296.35" font-size="8.03" text-anchor="middle">83</text>
<text x="439.75" y="296.35" font-size="8.03" text-anchor="middle">85</text>
<text x="460.92" y="296.35" font-size="8.03" text-anchor="middle">85</text>
<text x="482.10" y="296.35" font-size="8.03" text-anchor="middle">84</text>
<text x="503.27" y="296.35" font-size="8.03" text-anchor="middle">81</text>
<text x="524.45" y="296.35" font-size="8.03" text-anchor="middle">76</text>
<text x="545.62" y="296.35" font-size="8.03" text-anchor="middle">73</text>
<text x="566.80" y="296.35" font-size="8.03" text-anchor="middle">72</text>
<text x="587.97" y="296.35" font-size="8.03" text-anchor="middle">70</text>
<text x="101.20" y="310.19" font-size="8.03" text-anchor="middle">50%</text>
<text x="122.13" y="310.19" font-size="8.03" text-anchor="middle">40%</text>
<text x="143.30" y="310.19" font-size="8.03" text-anchor="middle">75%</text>
<text x="164.48" y="310.19" font-size="8.03" text-anchor="middle">85%</text>
<text x="185.65" y="310.19" font-size="8.03" text-anchor="middle">65%</text>
<text x="206.82" y="310.19" font-size="8.03" text-anchor="middle">55%</text>
<text x="228.00" y="310.19" font-size="8.03" text-anchor="middle">50%</text>
<text x="249.17" y="310.19" font-size="8.03" text-anchor="middle">5%</text>
<text x="270.35" y="310.19" font-size="8.03" text-anchor="middle">0%</text>
<text x="291.52" y="310.19" font-size="8.03" text-anchor="middle">0%</text>
<text x="312.70" y="310.19" font-size="8.03" text-anchor="middle">0%</text>
<text x="333.87" y="310.19" font-size="8.03" text-anchor="middle">0%</text>
<text x="355.05" y="310.19" font-size="8.03" text-anchor="middle">0%</text>
<text x="376.22" y="310.19" font-size="8.03" text-anchor="middle">0%</text>
<text x="397.40" y="310.19" font-size="8.03" text-anchor="middle">15%</text>
<text x="418.57" y="310.19" font-size="8.03" text-anchor="middle">20%</text>
<text x="439.75" y="310.19" font-size="8.03" text-anchor="middle">0%</text>
<text x="460.92" y="310.19" font-size="8.03" text-anchor="middle">0%</text>
<text x="482.10" y="310.19" font-size="8.03" text-anchor="middle">0%</text>
<text x="503.27" y="310.19" font-size="8.03" text-anchor="middle">0%</text>
<text x="524.45" y="310.19" font-size="8.03" text-anchor="middle">0%</text>
<text x="545.62" y="310.19" font-size="8.03" text-anchor="middle">0%</text>
<text x="566.80" y="310.19" font-size="8.03" text-anchor="middle">0%</text>
<text x="587.97" y="310.19" font-size="8.03" text-anchor="middle">5%</text>
<text x="101.20" y="324.04" font-size="8.03" text-anchor="middle">0.01</text>
<text x="122.13" y="324.04" font-size="8.03" text-anchor="middle">0.01</text>
<text x="143.30" y="324.04" font-size="8.03" text-anchor="middle">0.08</text>
<text x="164.48" y="324.04" font-size="8.03" text-anchor="middle">0.14</text>
<text x="185.65" y="324.04" font-size="8.03" text-anchor="middle">0.03</text>
<text x="206.82" y="324.04" font-size="8.03" text-anchor="middle">0.03</text>
<text x="228.00" y="324.04" font-size="8.03" text-anchor="middle">0.02</text>
<text x="249.17" y="324.04" font-size="8.03" text-anchor="middle">0.00</text>
<text x="270.35" y="324.04" font-size="8.03" text-anchor="middle">0.00</text>
<text x="291.52" y="324.04" font-size="8.03" text-anchor="middle">0.00</text>
<text x="312.70" y="324.04" font-size="8.03" text-anchor="middle">0.00</text>
<text x="333.87" y="324.04" font-size="8.03" text-anchor="middle">0.00</text>
<text x="355.05" y="324.04" font-size="8.03" text-anchor="middle">0.00</text>
<text x="376.22" y="324.04" font-size="8.03" text-anchor="middle">0.00</text>
<text x="397.40" y="324.04" font-size="8.03" text-anchor="middle">0.00</text>
<text x="418.57" y="324.04" font-size="8.03" text-anchor="middle">0.00</text>
<text x="439.75" y="324.04" font-size="8.03" text-anchor="middle">0.00</text>
<text x="460.92" y="324.04" font-size="8.03" text-anchor="middle">0.00</text>
<text x="482.10" y="324.04" font-size="8.03" text-anchor="middle">0.00</text>
<text x="503.27" y="324.04" font-size="8.03" text-anchor="middle">0.00</text>
<text x="524.45" y="324.04" font-size="8.03" text-anchor="middle">0.00</text>
<text x="545.62" y="324.04" font-size="8.03" text-anchor="middle">0.00</text>
<text x="566.80" y="324.04" font-size="8.03" text-anchor="middle">0.00</text>
<text x="587.97" y="324.04" font-size="8.03" text-anchor="middle">0.00</text>
<text x="101.20" y="337.88" font-size="8.03" text-anchor="middle">0.0</text>
<text x="122.13" y="337.88" font-size="8.03" text-anchor="middle">0.0</text>
<text x="143.30" y="337.88" font-size="8.03" text-anchor="middle">0.0</text>
<text x="164.48" y="337.88" font-size="8.03" text-anchor="middle">0.0</text>
<text x="185.65" y="337.88" font-size="8.03" text-anchor="middle">0.0</text>
<text x="206.82" y="337.88" font-size="8.03" text-anchor="middle">0.0</text>
<text x="228.00" y="337.88" font-size="8.03" text-anchor="middle">0.0</text>
<text x="249.17" y="337.88" font-size="8.03" text-anchor="middle">0.0</text>
<text x="270.35" y="337.88" font-size="8.03" text-anchor="middle">0.0</text>
<text x="291.52" y="337.88" font-size="8.03" text-anchor="middle">0.0</text>
<text x="312.70" y="337.88" font-size="8.03" text-anchor="middle">0.0</text>
<text x="333.87" y="337.88" font-size="8.03" text-anchor="middle">0.0</text>
<text x="355.05" y="337.88" font-size="8.03" text-anchor="middle">0.0</text>
<text x="376.22" y="337.88" font-size="8.03" text-anchor="middle">0.0</text>
<text x="397.40" y="337.88" font-size="8.03" text-anchor="middle">0.0</text>
<text x="418.57" y="337.88" font-size="8.03" text-anchor="middle">0.0</text>
<text x="439.75" y="337.88" font-size="8.03" text-anchor="middle">0.0</text>
<text x="460.92" y="337.88" font-size="8.03" text-anchor="middle">0.0</text>
<text x="482.10" y="337.88" font-size="8.03" text-anchor="middle">0.0</text>
<text x="503.27" y="337.88" font-size="8.03" text-anchor="middle">0.0</text>
<text x="524.45" y="337.88" font-size="8.03" text-anchor="middle">0.0</text>
<text x="545.62" y="337.88" font-size="8.03" text-anchor="middle">0.0</text>
<text x="566.80" y="337.88" font-size="8.03" text-anchor="middle">0.0</text>
<text x="587.97" y="337.88" font-size="8.03" text-anchor="middle">0.0</text>
<text x="101.20" y="351.73" font-size="8.03" text-anchor="middle">0.00</text>
<text x="122.13" y="351.73" font-size="8.03" text-anchor="middle">0.00</text>
<text x="143.30" y="351.73" font-size="8.03" text-anchor="middle">0.00</text>
<text x="164.48" y="351.73" font-size="8.03" text-anchor="middle">0.00</text>
<text x="185.65" y="351.73" font-size="8.03" text-anchor="middle">0.00</text>
<text x="206.82" y="351.73" font-size="8.03" text-anchor="middle">0.00</text>
<text x="228.00" y="351.73" font-size="8.03" text-anchor="middle">0.00</text>
<text x="249.17" y="351.73" font-size="8.03" text-anchor="middle">0.00</text>
<text x="270.35" y="351.73" font-size="8.03" text-anchor="middle">0.00</text>
<text x="291.52" y="351.73" font-size="8.03" text-anchor="middle">0.00</text>
<text x="312.70" y="351.73" font-size="8.03" text-anchor="middle">0.00</text>
<text x="333.87" y="351.73" font-size="8.03" text-anchor="middle">0.00</text>
<text x="355.05" y="351.73" font-size="8.03" text-anchor="middle">0.00</text>
<text x="376.22" y="351.73" font-size="8.03" text-anchor="middle">0.00</text>
<text x="397.40" y="351.73" font-size="8.03" text-anchor="middle">0.00</text>
<text x="418.57" y="351.73" font-size="8.03" text-anchor="middle">0.00</text>
<text x="439.75" y="351.73" font-size="8.03" text-anchor="middle">0.00</text>
<text x="460.92" y="351.73" font-size="8.03" text-anchor="middle">0.00</text>
<text x="482.10" y="351.73" font-size="8.03" text-anchor="middle">0.00</text>
<text x="503.27" y="351.73" font-size="8.03" text-anchor="middle">0.00</text>
<text x="524.45" y="351.73" font-size="8.03" text-anchor="middle">0.00</text>
<text x="545.62" y="351.73" font-size="8.03" text-anchor="middle">0.00</text>
<text x="566.80" y="351.73" font-size="8.03" text-anchor="middle">0.00</text>
<text x="587.97" y="351.73" font-size="8.03" text-anchor="middle">0.00</text>
<text x="101.20" y="365.57" font-size="8.03" text-anchor="middle">9</text>
<text x="122.13" y="365.57" font-size="8.03" text-anchor="middle">11</text>
<text x="143.30" y="365.57" font-size="8.03" text-anchor="middle">13</text>
<text x="164.48" y="365.57" font-size="8.03" text-anchor="middle">13</text>
<text x="185.65" y="365.57" font-size="8.03" text-anchor="middle">16</text>
<text x="206.82" y="365.57" font-size="8.03" text-anchor="middle">22</text>
<text x="228.00" y="365.57" font-size="8.03" text-anchor="middle">18</text>
<text x="249.17" y="365.57" font-size="8.03" text-anchor="middle">4</text>
<text x="270.35" y="365.57" font-size="8.03" text-anchor="middle">5</text>
<text x="291.52" y="365.57" font-size="8.03" text-anchor="middle">5</text>
<text x="312.70" y="365.57" font-size="8.03" text-anchor="middle">5</text>
<text x="333.87" y="365.57" font-size="8.03" text-anchor="middle">5</text>
<text x="355.05" y="365.57" font-size="8.03" text-anchor="middle">6</text>
<text x="376.22" y="365.57" font-size="8.03" text-anchor="middle">8</text>
<text x="397.40" y="365.57" font-size="8.03" text-anchor="middle">11</text>
<text x="418.57" y="365.57" font-size="8.03" text-anchor="middle">12</text>
<text x="439.75" y="365.57" font-size="8.03" text-anchor="middle">13</text>
<text x="460.92" y="365.57" font-size="8.03" text-anchor="middle">13</text>
<text x="482.10" y="365.57" font-size="8.03" text-anchor="middle">10</text>
<text x="503.27" y="365.57" font-size="8.03" text-anchor="middle">4</text>
<text x="524.45" y="365.57" font-size="8.03" text-anchor="middle">5</text>
<text x="545.62" y="365.57" font-size="8.03" text-anchor="middle">4</text>
<text x="566.80" y="365.57" font-size="8.03" text-anchor="middle">3</text>
<text x="587.97" y="365.57" font-size="8.03" text-anchor="middle">3</text>
<text x="101.20" y="379.41" font-size="8.03" text-anchor="middle">5</text>
<text x="122.13" y="379.41" font-size="8.03" text-anchor="middle">4</text>
<text x="143.30" y="379.41" font-size="8.03" text-anchor="middle">4</text>
<text x="164.48" y="379.41" font-size="8.03" text-anchor="middle">4</text>
<text x="185.65" y="379.41" font-size="8.03" text-anchor="middle">4</text>
<text x="206.82" y="379.41" font-size="8.03" text-anchor="middle">9</text>
<text x="228.00" y="379.41" font-size="8.03" text-anchor="middle">8</text>
<text x="249.17" y="379.41" font-size="8.03" text-anchor="middle">1</text>
<text x="270.35" y="379.41" font-size="8.03" text-anchor="middle">3</text>
<text x="291.52" y="379.41" font-size="8.03" text-anchor="middle">4</text>
<text x="312.70" y="379.41" font-size="8.03" text-anchor="middle">4</text>
<text x="333.87" y="379.41" font-size="8.03" text-anchor="middle">3</text>
<text x="355.05" y="379.41" font-size="8.03" text-anchor="middle">3</text>
<text x="376.22" y="379.41" font-size="8.03" text-anchor="middle">3</text>
<text x="397.40" y="379.41" font-size="8.03" text-anchor="middle">3</text>
<text x="418.57" y="379.41" font-size="8.03" text-anchor="middle">4</text>
<text x="439.75" y="379.41" font-size="8.03" text-anchor="middle">5</text>
<text x="460.92" y="379.41" font-size="8.03" text-anchor="middle">5</text>
<text x="482.10" y="379.41" font-size="8.03" text-anchor="middle">5</text>
<text x="503.27" y="379.41" font-size="8.03" text-anchor="middle">2</text>
<text x="524.45" y="379.41" font-size="8.03" text-anchor="middle">3</text>
<text x="545.62" y="379.41" font-size="8.03" text-anchor="middle">3</text>
<text x="566.80" y="379.41" font-size="8.03" text-anchor="middle">2</text>
<text x="587.97" y="379.41" font-size="8.03" text-anchor="middle">2</text>
<text x="194.71" y="428.75" font-size="8.17" text-anchor="middle">Wind Gusts</text>
<text x="293.27" y="428.75" font-size="8.17" text-anchor="middle">&lt; 30 mph</text>
<text x="371.27" y="428.75" font-size="8.17" text-anchor="middle">≥ 30 mph</text>
<text x="449.52" y="428.75" font-size="8.17" text-anchor="middle" fill-opacity="0.8">≥ 40 mph</text>
<text x="194.71" y="442.67" font-size="8.17" text-anchor="middle">Thunderstorm/Lightning</text>
<text x="293.27" y="442.67" font-size="8.17" text-anchor="middle">Low/None</text>
<text x="371.27" y="442.67" font-size="8.17" text-anchor="middle">Moderate</text>
<text x="449.52" y="442.67" font-size="8.17" text-anchor="middle" fill-opacity="0.8">High</text>
<text x="194.71" y="456.58" font-size="8.17" text-anchor="middle">Large Hail</text>
<text x="293.27" y="456.58" font-size="8.17" text-anchor="middle">Low/None</text>
<text x="371.27" y="456.58" font-size="8.17" text-anchor="middle">Moderate</text>
<text x="449.52" y="456.58" font-size="8.17" text-anchor="middle" fill-opacity="0.8">High</text>
<text x="194.71" y="470.50" font-size="8.17" text-anchor="middle">Tornado</text>
<text x="293.27" y="470.50" font-size="8.17" text-anchor="middle">Low/None</text>
<text x="371.27" y="470.50" font-size="8.17" text-anchor="middle">Moderate</text>
<text x="449.52" y="470.50" font-size="8.17" text-anchor="middle" fill-opacity="0.8">High</text>
<text x="194.71" y="484.42" font-size="8.17" text-anchor="middle">Heavy Precipitation</text>
<text x="293.27" y="484.42" font-size="8.17" text-anchor="middle">&lt; 0.10 in</text>
<text x="371.27" y="484.42" font-size="8.17" text-anchor="middle">≥ 0.10 in</text>
<text x="449.52" y="484.42" font-size="8.17" text-anchor="middle" fill-opacity="0.8">≥ 0.30 in</text>
<text x="194.71" y="498.33" font-size="8.17" text-anchor="middle">Wind Chill</text>
<text x="293.27" y="498.33" font-size="8.17" text-anchor="middle">&gt; 10 F</text>
<text x="371.27" y="498.33" font-size="8.17" text-anchor="middle">≤ 10 F</text>
<text x="449.52" y="498.33" font-size="8.17" text-anchor="middle" fill-opacity="0.8">≤ 0 F</text>
<text x="194.71" y="512.25" font-size="8.17" text-anchor="middle">Heat Index</text>
<text x="293.27" y="512.25" font-size="8.17" text-anchor="middle">&lt; 90 F</text>
<text x="371.27" y="512.25" font-size="8.17" text-anchor="middle">≥ 90 F</text>
<text x="449.52" y="512.25" font-size="8.17" text-anchor="middle" fill-opacity="0.8">≥ 95 F</text>
<text x="194.71" y="526.17" font-size="8.17" text-anchor="middle">Snow Accumulation</text>
<text x="293.27" y="526.17" font-size="8.17" text-anchor="middle">&lt; 0.5 in</text>
<text x="371.27" y="526.17" font-size="8.17" text-anchor="middle">≥ 0.5 in</text>
<text x="449.52" y="526.17" font-size="8.17" text-anchor="middle" fill-opacity="0.8">≥ 1.0 in</text>
<text x="194.71" y="540.08" font-size="8.17" text-anchor="middle">Ice Accumulation</text>
<text x="293.27" y="540.08" font-size="8.17" text-anchor="middle">&lt; 1.00 in</text>
<text x="371.27" y="540.08" font-size="8.17" text-anchor="middle">≥ 1.00 in</text>
<text x="449.52" y="540.08" font-size="8.17" text-anchor="middle" fill-opacity="0.8">≥ 2.00 in</text>
</g>
<g id="logo">
<path d="M44.9 45.2 L32.6 45.6 C27.6 45.6 24.6 42.0 24.6 37.5 C24.6 32.8 27.8 29.3 32.6 29.3 L42.7 29.4 C43.3 24.6 46.8 20.0 52.2 20.0 C55.4 20.0 57.6 21.4 58.9 23.3" fill="none" stroke="#1f5ca9" stroke-width="2.0" stroke-linejoin="miter"/>
<polygon points="44.2,44.2 45.9,44.2 44.9,46.2 43.2,46.2" fill="#1f5ca9"/>
<path d="M58.0 22.0 C59.2 23.0 60.0 24.2 60.5 25.4 C59.6 24.4 58.8 23.8 57.6 23.2 Z" fill="#1f5ca9"/>
<g fill="#d8343e" stroke="#d8343e" stroke-width="0.45" stroke-linejoin="round">
<polygon points="60.8,27.7 66.9,27.8 64.9,30.5 58.9,30.4"/>
<polygon points="67.5,29.7 72.2,30.2 70.6,32.7 65.8,32.3"/>
<polygon points="73.0,32.0 74.8,33.2 74.2,34.8 72.4,33.6"/>
<polygon points="58.0,32.5 63.1,32.6 61.1,35.8 55.7,35.7"/>
<polygon points="64.9,34.1 69.4,34.5 67.7,37.4 63.0,37.0"/>
<polygon points="71.5,35.0 75.1,35.5 73.7,37.4 70.2,37.0"/>
<polygon points="54.2,37.9 59.3,38.0 57.3,41.2 52.3,41.1"/>
<polygon points="61.4,39.1 66.2,39.3 64.3,42.1 59.8,42.0"/>
<polygon points="68.7,38.8 72.2,39.2 70.9,41.2 67.4,40.8"/>
<polygon points="75.3,37.9 77.3,38.4 76.2,40.3 74.3,39.8"/>
<path d="M51.0 43.0 L55.8 43.0 C54.6 45.4 52.6 48.6 49.4 50.3 C46.6 51.6 43.4 51.4 40.9 50.2 C44.2 50.4 46.6 49.1 48.2 47.2 C49.4 45.8 50.3 44.3 51.0 43.0 Z"/>
<polygon points="57.6,44.2 62.8,44.3 61.1,47.2 55.7,47.4"/>
<polygon points="65.8,42.6 69.7,43.0 68.3,44.7 64.9,44.6"/>
<polygon points="72.4,41.6 74.7,42.0 73.4,43.7 71.2,43.6"/>
</g>
<g transform="scale(1.295,1)" font-family="'DejaVu Sans', 'Liberation Sans', sans-serif" font-weight="200" font-size="24.5" stroke-width="1.25" stroke-linejoin="round">
<text y="45.6" x="65.0 87.6 100.0 112.4 117.7 129.6 142.0" fill="#1f5ca9" stroke="#1f5ca9">Weather</text>
<text y="45.6" x="156.6 171.65 185.9" fill="#d8343e" stroke="#d8343e">Ops</text>
</g>
</g>

</g>
<rect x="0" y="0" width="640" height="1" fill="#fddddd"/>
<rect x="0" y="0" width="1" height="556" fill="#fddddd"/>
</svg>
</body>
</html>
